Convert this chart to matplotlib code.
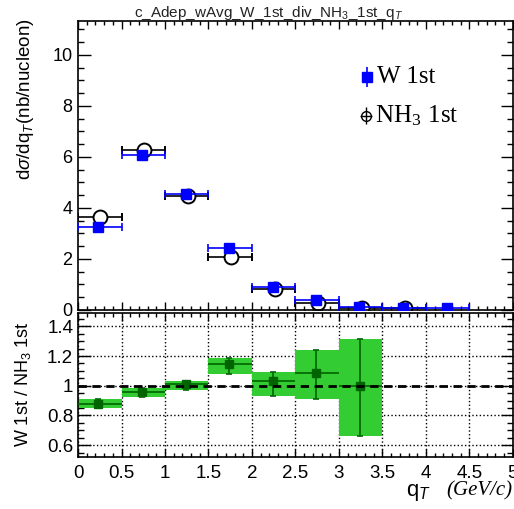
import numpy as np
import matplotlib
matplotlib.use("Agg")
import matplotlib.pyplot as plt
from matplotlib.ticker import MultipleLocator, FuncFormatter

# ---- data ----
bin_lo = [0.0, 0.5, 1.0, 1.5, 2.0, 2.5, 3.0, 3.5, 4.0]
bin_hi = [0.5, 1.0, 1.5, 2.0, 2.5, 3.0, 3.5, 4.0, 4.5]
w_x = [0.23, 0.74, 1.24, 1.74, 2.24, 2.74, 3.23, 3.74, 4.24]
w_y = [3.27, 6.08, 4.54, 2.44, 0.89, 0.39, 0.12, 0.06, 0.06]
nh_x = [0.25, 0.76, 1.26, 1.76, 2.26, 2.76, 3.27, 3.76]
nh_y = [3.65, 6.29, 4.48, 2.08, 0.81, 0.26, 0.08, 0.07]
nh_lo = [0.0, 0.5, 1.0, 1.5, 2.0, 2.5, 3.0, 3.5]
nh_hi = [0.5, 1.0, 1.5, 2.0, 2.5, 3.0, 3.5, 4.0]

r_x = [0.23, 0.74, 1.24, 1.74, 2.24, 2.74, 3.24]
r_y = [0.875, 0.960, 1.010, 1.148, 1.033, 1.089, 0.999]
r_lo = [0.848, 0.923, 0.972, 1.080, 0.933, 0.909, 0.663]
r_hi = [0.911, 0.983, 1.033, 1.186, 1.096, 1.238, 1.317]
r_blo = [0.0, 0.5, 1.0, 1.5, 2.0, 2.5, 3.0]
r_bhi = [0.5, 1.0, 1.5, 2.0, 2.5, 3.0, 3.5]

SANS = "Liberation Sans"
SERIF = "Liberation Serif"
plt.rcParams['font.family'] = [SANS, 'DejaVu Sans']
plt.rcParams['mathtext.fontset'] = 'custom'
plt.rcParams['mathtext.rm'] = SANS
plt.rcParams['mathtext.it'] = SANS + ':italic'

fig = plt.figure(figsize=(5.14, 5.09), dpi=100)
ax1 = fig.add_axes([0.1518, 0.391, 0.846, 0.5677])
ax2 = fig.add_axes([0.1518, 0.1022, 0.846, 0.2828])

# ---- top panel ----
w_x = np.array(w_x); w_y = np.array(w_y)
xl = w_x - np.array(bin_lo); xh = np.array(bin_hi) - w_x
ax1.errorbar(w_x, w_y, xerr=[xl, xh], fmt='s', color='#0000ff', ms=7,
             elinewidth=1.2, capsize=3, capthick=1.2, zorder=3)
nh_x = np.array(nh_x); nh_y = np.array(nh_y)
xl2 = nh_x - np.array(nh_lo); xh2 = np.array(nh_hi) - nh_x
ax1.errorbar(nh_x, nh_y, xerr=[xl2, xh2], fmt='o', color='black', mfc='white',
             mec='black', ms=10, mew=1.4, elinewidth=1.2, capsize=3, capthick=1.2,
             zorder=2)

ax1.set_xlim(0, 5)
ax1.set_ylim(0, 11.33)
ax1.xaxis.set_major_locator(MultipleLocator(0.5))
ax1.xaxis.set_minor_locator(MultipleLocator(0.1))
ax1.yaxis.set_major_locator(MultipleLocator(2))
ax1.yaxis.set_minor_locator(MultipleLocator(0.5))
ax1.tick_params(axis='both', which='both', direction='in', top=True, right=True)
ax1.tick_params(axis='y', which='major', length=9, width=1)
ax1.tick_params(axis='y', which='minor', length=4.5, width=1)
ax1.tick_params(axis='x', which='major', length=6, width=1)
ax1.tick_params(axis='x', which='minor', length=3, width=1)
ax1.tick_params(axis='x', labelbottom=False)
ax1.tick_params(axis='y', labelsize=13, pad=4)
for s in ax1.spines.values():
    s.set_linewidth(1.2)

# legend (decoration)
ax1.errorbar([0.664], [0.806], yerr=[0.035], fmt='s', color='#0000ff', ms=7,
             elinewidth=1.2, capsize=0, transform=ax1.transAxes, clip_on=False)
ax1.text(0.688, 0.806, "W 1st", transform=ax1.transAxes, fontsize=18,
         family=SERIF, va='center', ha='left')
ax1.errorbar([0.662], [0.673], yerr=[0.028], xerr=[0.013], fmt='o', color='black',
             mfc='none', mec='black', ms=7, mew=1.0, elinewidth=1.0, capsize=0,
             transform=ax1.transAxes, clip_on=False)
ax1.text(0.682, 0.673, r"NH$_{\mathregular{3}}$ 1st", transform=ax1.transAxes,
         fontsize=18, family=SERIF, va='center', ha='left',
         math_fontfamily='stix')

fig.text(0.522, 0.975, r"c_Adep_wAvg_W_1st_div_NH$_3$_1st_q$_T$", ha='center',
         va='center', fontsize=11, color='#222222')
fig.text(0.05, 0.963, r"d$\sigma$/dq$_T$(nb/nucleon)", rotation=90, ha='center',
         va='top', fontsize=13.5)

# ---- ratio panel ----
r_x = np.array(r_x); r_y = np.array(r_y)
r_lo = np.array(r_lo); r_hi = np.array(r_hi)
r_blo = np.array(r_blo); r_bhi = np.array(r_bhi)
ax2.bar(r_blo, r_hi - r_lo, bottom=r_lo, width=r_bhi - r_blo, align='edge',
        color='#33cc33', edgecolor='none', zorder=2)
ax2.errorbar(r_x, r_y, yerr=[r_y - r_lo, r_hi - r_y], fmt='s', color='#006400',
             ms=6, elinewidth=1.2, capsize=2.5, capthick=1.2, zorder=3)
ax2.errorbar(r_x, r_y, xerr=[r_x - r_blo, r_bhi - r_x], fmt='none',
             ecolor='#006400', elinewidth=1.2, capsize=0, zorder=3)
ax2.axhline(1.0, color='black', ls=(0, (3, 2)), lw=2, zorder=4)

ax2.set_xlim(0, 5)
ax2.set_ylim(0.52, 1.49)
ax2.xaxis.set_major_locator(MultipleLocator(0.5))
ax2.xaxis.set_minor_locator(MultipleLocator(0.1))
ax2.yaxis.set_major_locator(MultipleLocator(0.2))
ax2.yaxis.set_minor_locator(MultipleLocator(0.05))
ax2.grid(True, which='major', color='black', ls=':', lw=1, zorder=1)
ax2.set_axisbelow(True)
ax2.tick_params(axis='both', which='both', direction='in', top=True, right=True)
ax2.tick_params(axis='y', which='major', length=9, width=1)
ax2.tick_params(axis='y', which='minor', length=4.5, width=1)
ax2.tick_params(axis='x', which='major', length=6, width=1)
ax2.tick_params(axis='x', which='minor', length=3, width=1)
ax2.tick_params(axis='both', labelsize=13.5)
ax2.tick_params(axis='x', pad=6)
for s in ax2.spines.values():
    s.set_linewidth(1.2)

def fmt(v, p):
    return f"{v:g}"
ax2.xaxis.set_major_formatter(FuncFormatter(fmt))
ax2.yaxis.set_major_formatter(FuncFormatter(fmt))

fig.text(0.045, 0.245, r"W 1st / NH$_3$ 1st", rotation=90, ha='center',
         va='center', fontsize=13)
fig.text(0.79, 0.026, r"q$_T$", ha='left', va='baseline', fontsize=16)
fig.text(0.997, 0.026, "(GeV/c)", ha='right', va='baseline', fontsize=15,
         family=SERIF, style='italic')

fig.savefig("out.png", dpi=100)
